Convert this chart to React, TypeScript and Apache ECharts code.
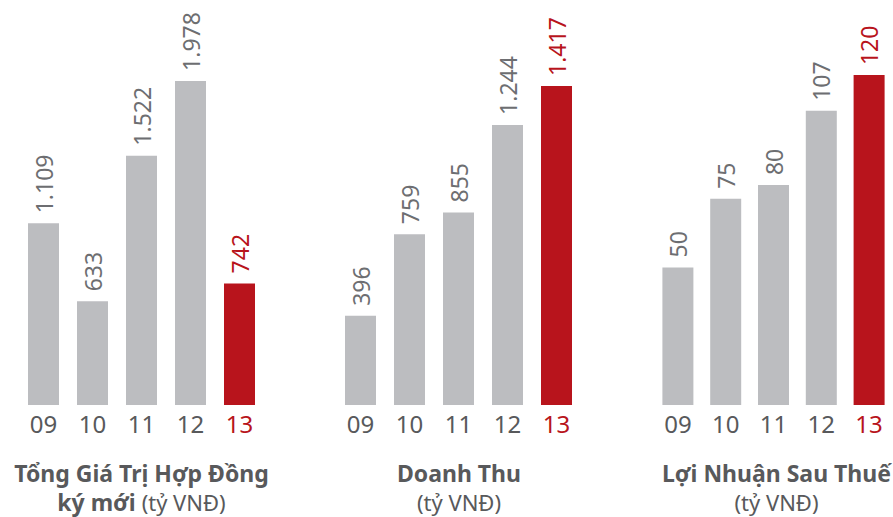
import React, { useEffect, useRef } from "react";
import * as echarts from "echarts";

const years = ["09", "10", "11", "12", "13"];
const contractValues = [1109, 633, 1522, 1978, 742];
const revenueValues = [396, 759, 855, 1244, 1417];
const profitValues = [50, 75, 80, 107, 120];
const contractLabels = ["1.109", "633", "1.522", "1.978", "742"];
const revenueLabels = ["396", "759", "855", "1.244", "1.417"];
const profitLabels = ["50", "75", "80", "107", "120"];
const titles = [
  { bold: "Tổng Giá Trị Hợp Đồng", line2Bold: "ký mới", line2: "(tỷ VNĐ)" },
  { bold: "Doanh Thu", line2Bold: "", line2: "(tỷ VNĐ)" },
  { bold: "Lợi Nhuận Sau Thuế", line2Bold: "", line2: "(tỷ VNĐ)" },
];

const GRAY = "#bcbdc0";
const RED = "#b8141c";
const LABEL_GRAY = "#6d6e71";
const TEXT_GRAY = "#58595b";
const FONT = "Noto Sans";

export default function App() {
  const ref = useRef<HTMLDivElement>(null);
  useEffect(() => {
    if (!ref.current) return;
    const chart = echarts.init(ref.current, null, { renderer: "svg" });
    const panels = [
      { left: 19, values: contractValues, labels: contractLabels, max: 2472 },
      { left: 336, values: revenueValues, labels: revenueLabels, max: 1799 },
      { left: 654, values: profitValues, labels: profitLabels, max: 147.3 },
    ];
    const centers = [141.5, 459, 776.5];
    const graphic: any[] = [];
    titles.forEach((t, i) => {
      graphic.push({
        type: "text",
        x: centers[i],
        y: 473,
        style: {
          text: t.bold,
          font: `bold 23px "${FONT}"`,
          fill: TEXT_GRAY,
          align: "center",
          verticalAlign: "middle",
        },
      });
      const line2 = t.line2Bold
        ? `{b|${t.line2Bold} }{n|${t.line2}}`
        : `{n|${t.line2}}`;
      graphic.push({
        type: "text",
        x: centers[i],
        y: 502,
        style: {
          text: line2,
          align: "center",
          verticalAlign: "middle",
          rich: {
            b: { fontFamily: FONT, fontWeight: "bold", fontSize: 23, lineHeight: 24, fill: TEXT_GRAY },
            n: { fontFamily: FONT, fontSize: 22, lineHeight: 24, fill: TEXT_GRAY },
          },
        },
      });
    });
    chart.setOption({
      animation: false,
      grid: panels.map((p) => ({ left: p.left, width: 245, top: 0, height: 405 })),
      xAxis: panels.map((p, i) => ({
        type: "category",
        gridIndex: i,
        data: years,
        axisLine: { show: false },
        axisTick: { show: false },
        axisLabel: {
          fontFamily: FONT,
          fontSize: 24,
          margin: 6,
          color: (v: string) => (v === "13" ? RED : TEXT_GRAY),
        },
      })),
      yAxis: panels.map((p, i) => ({
        type: "value",
        gridIndex: i,
        min: 0,
        max: p.max,
        show: false,
        splitLine: { show: false },
      })),
      series: panels.map((p, i) => ({
        type: "bar",
        xAxisIndex: i,
        yAxisIndex: i,
        barWidth: 31,
        data: p.values.map((v, idx) => ({
          value: v,
          itemStyle: { color: idx === 4 ? RED : GRAY },
          label: { color: idx === 4 ? RED : LABEL_GRAY },
        })),
        label: {
          show: true,
          position: "top",
          rotate: 90,
          align: "left",
          verticalAlign: "middle",
          distance: 10,
          fontFamily: FONT,
          fontSize: 23,
          formatter: (params: any) => p.labels[params.dataIndex],
        },
      })),
      graphic,
    });
    return () => chart.dispose();
  }, []);
  return (
    <div
      ref={ref}
      style={{ position: "fixed", left: 0, top: 0, width: 893, height: 517, background: "#fff" }}
    />
  );
}
